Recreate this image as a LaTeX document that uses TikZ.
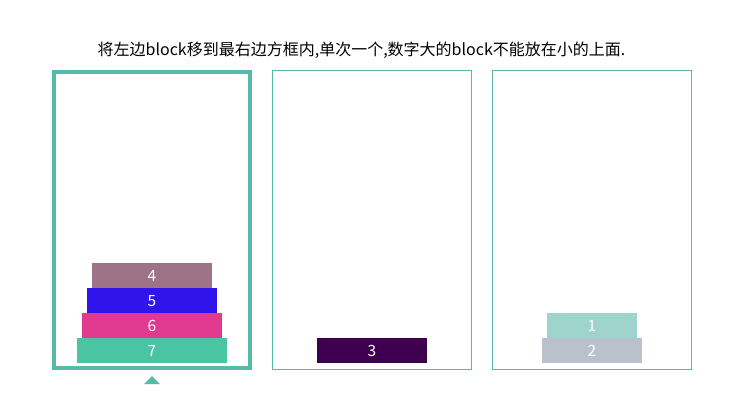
\documentclass[tikz,border=0pt]{standalone}
\usepackage{fontspec}
\setmainfont{Noto Sans CJK SC}
\begin{document}
\begin{tikzpicture}[x=1pt,y=-1pt,
  frame/.style={draw=framec,line width=1pt},
  frameact/.style={draw=framec,line width=4pt},
  blk/.style={anchor=north,minimum height=25pt,inner sep=0pt,text=white,font=\fontsize{15.5}{15.5}\selectfont}
]
\definecolor{framec}{RGB}{86,186,168}
\definecolor{c1}{RGB}{158,212,204}
\definecolor{c2}{RGB}{187,193,204}
\definecolor{c3}{RGB}{62,0,78}
\definecolor{c4}{RGB}{158,115,138}
\definecolor{c5}{RGB}{48,20,235}
\definecolor{c6}{RGB}{224,58,143}
\definecolor{c7}{RGB}{75,196,164}
\useasboundingbox (0,0) rectangle (740,415);
\node[font=\fontsize{16}{16}\selectfont,text=black,anchor=base] (title) at (361.5,55) {将左边block移到最右边方框内,单次一个,数字大的block不能放在小的上面.};
% frames
\draw[frameact] (54,72) rectangle (250,368);
\node[inner sep=0pt,minimum width=196pt,minimum height=296pt] (t1) at (152,220) {};
\node[frame,inner sep=0pt,minimum width=199pt,minimum height=299pt] (t2) at (372,220) {};
\node[frame,inner sep=0pt,minimum width=199pt,minimum height=299pt] (t3) at (592,220) {};
% tower 1
\node[blk,fill=c7,minimum width=150pt] (b7) at (152,338) {7};
\node[blk,fill=c6,minimum width=140pt] (b6) at (152,313) {6};
\node[blk,fill=c5,minimum width=130pt] (b5) at (152,288) {5};
\node[blk,fill=c4,minimum width=120pt] (b4) at (152,263) {4};
% tower 2
\node[blk,fill=c3,minimum width=110pt] (b3) at (372,338) {3};
% tower 3
\node[blk,fill=c2,minimum width=100pt] (b2) at (592,338) {2};
\node[blk,fill=c1,minimum width=90pt] (b1) at (592,313) {1};
% pointer
\fill[framec] (144,384) -- (152,376) -- (160,384) -- cycle;
\end{tikzpicture}
\end{document}
